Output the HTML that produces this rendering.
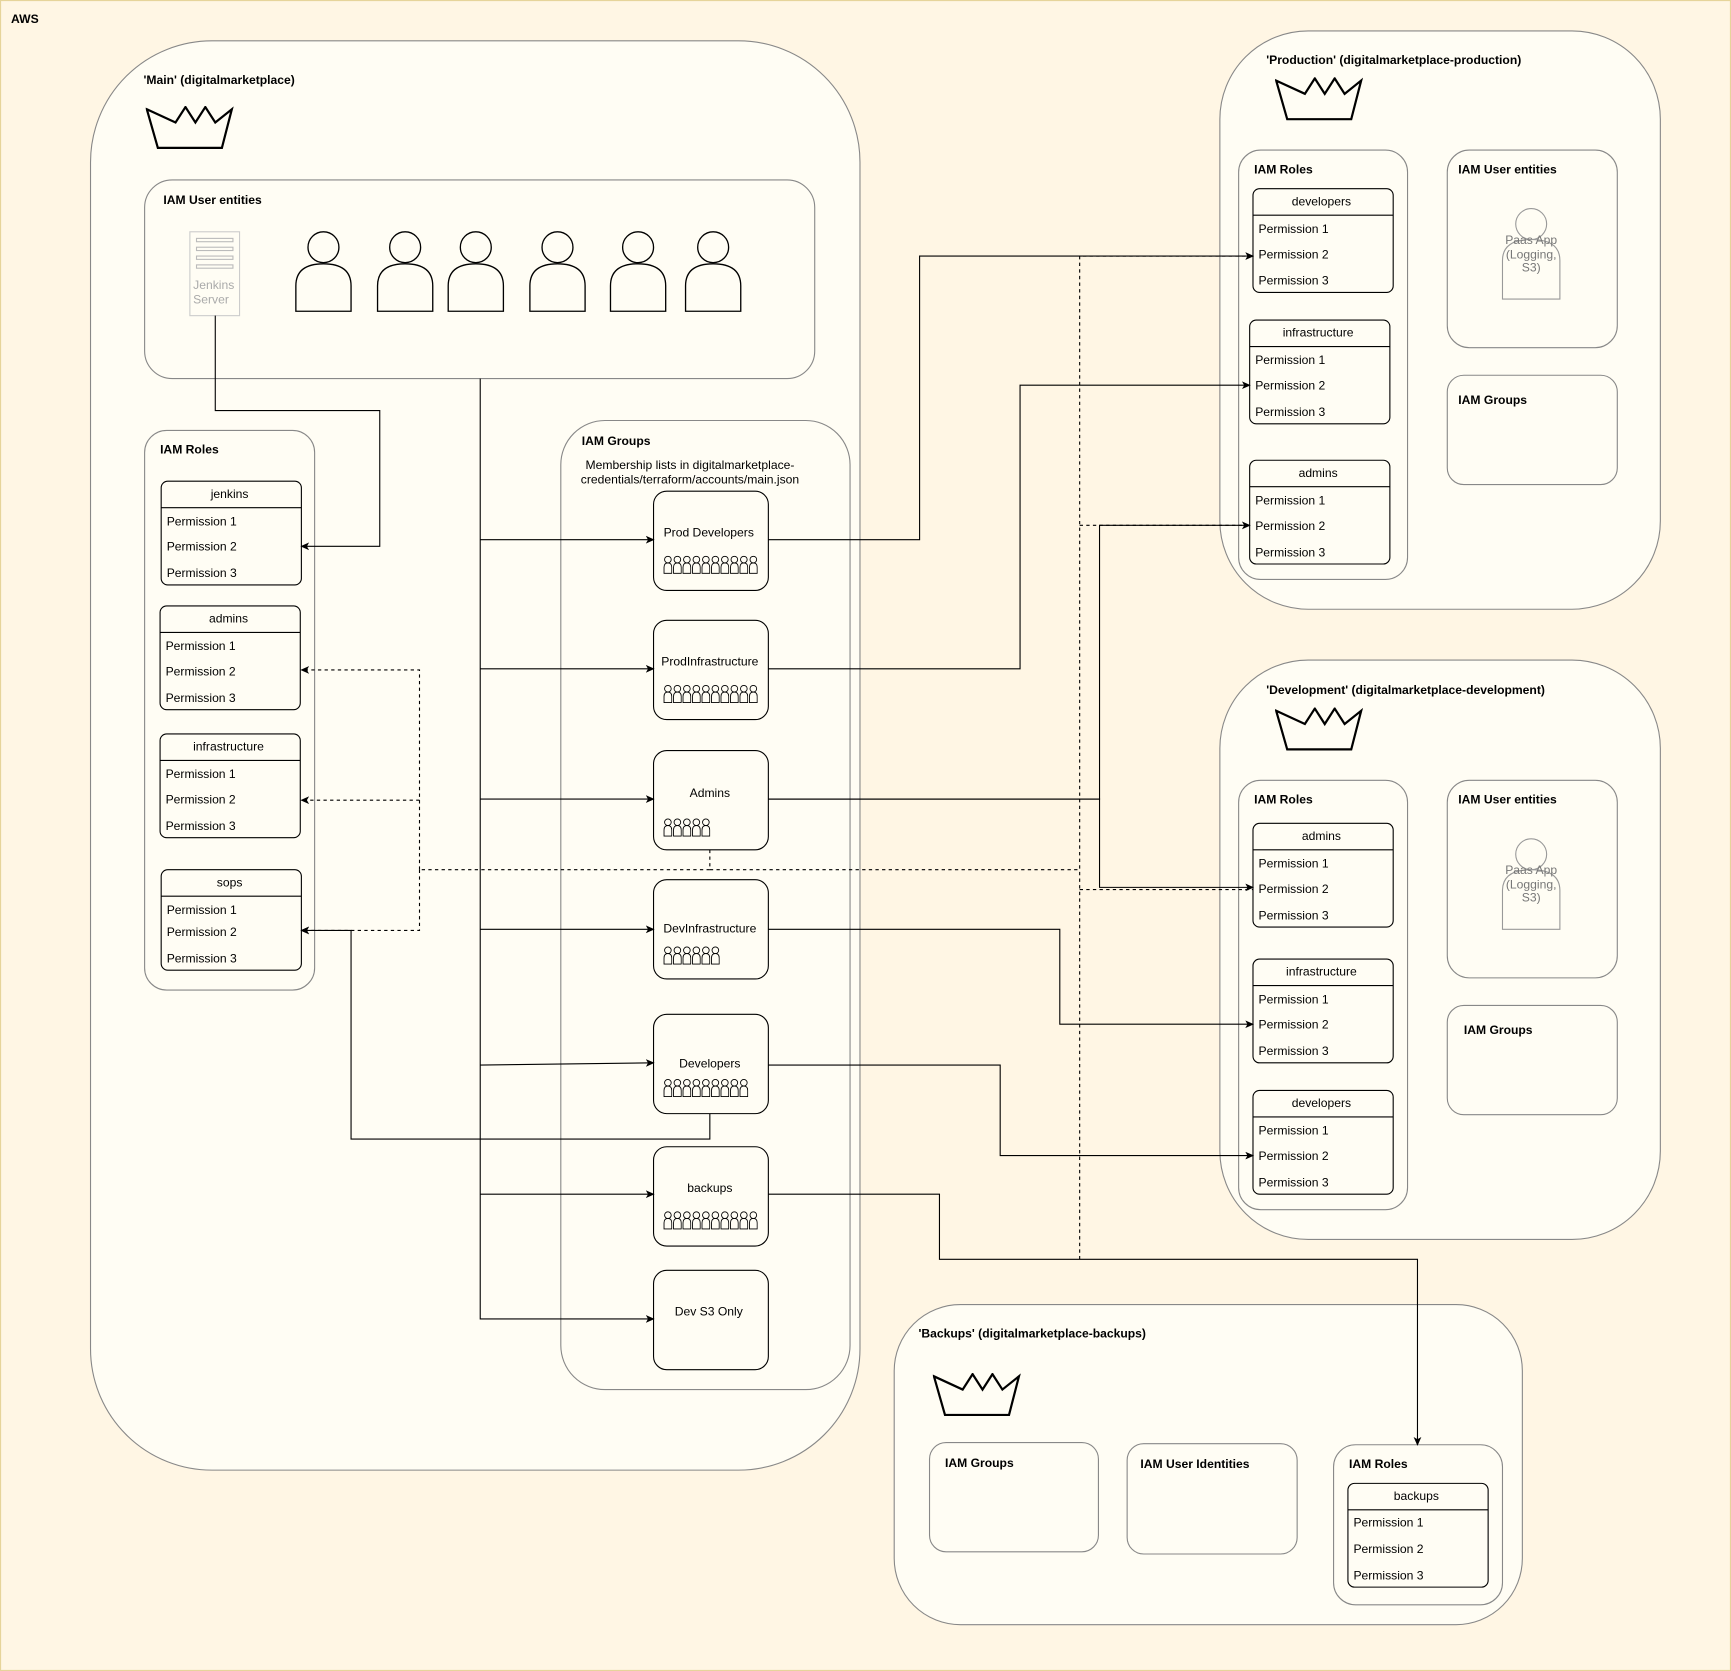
<!DOCTYPE html>
<html><head><meta charset="utf-8"><style>
html,body{margin:0;padding:0;background:#fff6e4;}
svg{display:block;}
text{font-family:"Liberation Sans",Arial,sans-serif;font-size:11px;fill:#000;}
.b{font-weight:bold;}
.c{fill:#fffdf4;stroke:#888;stroke-width:1;}
.w{fill:#fffdf4;stroke:#000;stroke-width:1;}
.l{fill:none;stroke:#000;stroke-width:1;}
.d{fill:none;stroke:#000;stroke-width:1;stroke-dasharray:3,3;}
.g{fill:#888;}
</style></head><body>
<svg width="1731" height="1671" viewBox="0 0 1568 1514" preserveAspectRatio="none" xmlns="http://www.w3.org/2000/svg">
<defs>
<marker id="a" markerWidth="8" markerHeight="8" refX="7" refY="4" orient="auto" markerUnits="userSpaceOnUse"><path d="M0,0.5 L8,4 L0,7.5 L2,4 Z" fill="#000"/></marker>
<symbol id="mp" viewBox="0 0 8 17" width="8" height="17"><circle cx="4" cy="4" r="3" fill="none" stroke="#000" stroke-width="0.8"/><path d="M0.5,16.5 L0.5,11 Q0.5,7 4,7 Q7.5,7 7.5,11 L7.5,16.5 Z" fill="none" stroke="#000" stroke-width="0.8"/></symbol>
<symbol id="pp" viewBox="0 0 52 74" width="52" height="74"><circle cx="26" cy="15" r="14" fill="none" stroke="#000" stroke-width="1.2"/><path d="M1,73 L1,50 Q1,30 26,30 Q51,30 51,50 L51,73 Z" fill="none" stroke="#000" stroke-width="1.2"/></symbol>
<symbol id="cr" viewBox="0 0 80 40" width="80" height="40"><path d="M1,3 L27,15 L36,1 L45,15 L54,1 L63,15 L78,3 L69,38 L11,38 Z" fill="none" stroke="#000" stroke-width="2"/></symbol>
</defs>
<rect x="0.5" y="0.5" width="1567" height="1513" fill="#fff6e4" stroke="#e6d49a"/>
<text x="10" y="21" class="b">AWS</text>

<!-- Main -->
<rect class="c" x="82" y="37" width="697" height="1295" rx="110"/>
<text x="130" y="76" class="b">'Main' (digitalmarketplace)</text>
<use href="#cr" x="132" y="96"/>
<rect class="c" x="131" y="163" width="607" height="180" rx="25"/>
<text x="148" y="185" class="b">IAM User entities</text>
<rect x="172" y="210" width="45" height="76" fill="#fffdf4" stroke="#ccc"/>
<g stroke="#bbb" fill="none"><rect x="178" y="216" width="33" height="3"/><rect x="178" y="224" width="33" height="3"/><rect x="178" y="232" width="33" height="3"/><rect x="178" y="240" width="33" height="3"/></g>
<text x="175" y="262" fill="#aaa" style="fill:#aaa">Jenkins</text>
<text x="175" y="275" style="fill:#aaa">Server</text>
<use href="#pp" x="267" y="209"/><use href="#pp" x="341" y="209"/><use href="#pp" x="405" y="209"/><use href="#pp" x="479" y="209"/><use href="#pp" x="552" y="209"/><use href="#pp" x="620" y="209"/>

<rect class="c" x="131" y="390" width="154" height="507" rx="20"/>
<text x="145" y="411" class="b">IAM Roles</text>
<g>
<rect class="w" x="146" y="436" width="127" height="94" rx="6"/><line class="l" x1="146" y1="460" x2="273" y2="460"/>
<text x="208" y="451" text-anchor="middle">jenkins</text><text x="151" y="476">Permission 1</text><text x="151" y="499">Permission 2</text><text x="151" y="523">Permission 3</text>
<rect class="w" x="145" y="549" width="127" height="94" rx="6"/><line class="l" x1="145" y1="573" x2="272" y2="573"/>
<text x="207" y="564" text-anchor="middle">admins</text><text x="150" y="589">Permission 1</text><text x="150" y="612">Permission 2</text><text x="150" y="636">Permission 3</text>
<rect class="w" x="145" y="665" width="127" height="94" rx="6"/><line class="l" x1="145" y1="689" x2="272" y2="689"/>
<text x="207" y="680" text-anchor="middle">infrastructure</text><text x="150" y="705">Permission 1</text><text x="150" y="728">Permission 2</text><text x="150" y="752">Permission 3</text>
<rect class="w" x="146" y="788" width="127" height="91" rx="6"/><line class="l" x1="146" y1="812" x2="273" y2="812"/>
<text x="208" y="803" text-anchor="middle">sops</text><text x="151" y="828">Permission 1</text><text x="151" y="848">Permission 2</text><text x="151" y="872">Permission 3</text>
</g>

<rect class="c" x="508" y="381" width="262" height="878" rx="40"/>
<text x="527" y="403" class="b">IAM Groups</text>
<text x="625" y="425" text-anchor="middle">Membership lists in digitalmarketplace-</text>
<text x="625" y="438" text-anchor="middle">credentials/terraform/accounts/main.json</text>

<g>
<rect class="w" x="592" y="445" width="104" height="90" rx="12"/><text x="642" y="486" text-anchor="middle">Prod Developers</text>
<rect class="w" x="592" y="562" width="104" height="90" rx="12"/><text x="643" y="603" text-anchor="middle">ProdInfrastructure</text>
<rect class="w" x="592" y="680" width="104" height="90" rx="12"/><text x="643" y="722" text-anchor="middle">Admins</text>
<rect class="w" x="592" y="797" width="104" height="90" rx="12"/><text x="643" y="845" text-anchor="middle">DevInfrastructure</text>
<rect class="w" x="592" y="919" width="104" height="90" rx="12"/><text x="643" y="967" text-anchor="middle">Developers</text>
<rect class="w" x="592" y="1039" width="104" height="90" rx="12"/><text x="643" y="1080" text-anchor="middle">backups</text>
<rect class="w" x="592" y="1151" width="104" height="90" rx="12"/><text x="642" y="1192" text-anchor="middle">Dev S3 Only</text>
</g>
<g>
<use href="#mp" x="601" y="503"/><use href="#mp" x="609.6" y="503"/><use href="#mp" x="618.2" y="503"/><use href="#mp" x="626.8" y="503"/><use href="#mp" x="635.4" y="503"/><use href="#mp" x="644" y="503"/><use href="#mp" x="652.6" y="503"/><use href="#mp" x="661.2" y="503"/><use href="#mp" x="669.8" y="503"/><use href="#mp" x="678.4" y="503"/>
<use href="#mp" x="601" y="620"/><use href="#mp" x="609.6" y="620"/><use href="#mp" x="618.2" y="620"/><use href="#mp" x="626.8" y="620"/><use href="#mp" x="635.4" y="620"/><use href="#mp" x="644" y="620"/><use href="#mp" x="652.6" y="620"/><use href="#mp" x="661.2" y="620"/><use href="#mp" x="669.8" y="620"/><use href="#mp" x="678.4" y="620"/>
<use href="#mp" x="601" y="741"/><use href="#mp" x="609.6" y="741"/><use href="#mp" x="618.2" y="741"/><use href="#mp" x="626.8" y="741"/><use href="#mp" x="635.4" y="741"/>
<use href="#mp" x="601" y="857"/><use href="#mp" x="609.6" y="857"/><use href="#mp" x="618.2" y="857"/><use href="#mp" x="626.8" y="857"/><use href="#mp" x="635.4" y="857"/><use href="#mp" x="644" y="857"/>
<use href="#mp" x="601" y="977"/><use href="#mp" x="609.6" y="977"/><use href="#mp" x="618.2" y="977"/><use href="#mp" x="626.8" y="977"/><use href="#mp" x="635.4" y="977"/><use href="#mp" x="644" y="977"/><use href="#mp" x="652.6" y="977"/><use href="#mp" x="661.2" y="977"/><use href="#mp" x="669.8" y="977"/>
<use href="#mp" x="601" y="1097"/><use href="#mp" x="609.6" y="1097"/><use href="#mp" x="618.2" y="1097"/><use href="#mp" x="626.8" y="1097"/><use href="#mp" x="635.4" y="1097"/><use href="#mp" x="644" y="1097"/><use href="#mp" x="652.6" y="1097"/><use href="#mp" x="661.2" y="1097"/><use href="#mp" x="669.8" y="1097"/><use href="#mp" x="678.4" y="1097"/>
</g>

<!-- Production -->
<rect class="c" x="1105" y="28" width="399" height="524" rx="80"/>
<text x="1147" y="58" class="b">'Production' (digitalmarketplace-production)</text>
<use href="#cr" x="1155" y="70"/>
<rect class="c" x="1122" y="136" width="153" height="389" rx="20"/>
<text x="1136" y="157" class="b">IAM Roles</text>
<rect class="w" x="1135" y="171" width="127" height="94" rx="6"/><line class="l" x1="1135" y1="195" x2="1262" y2="195"/>
<text x="1197" y="186" text-anchor="middle">developers</text><text x="1140" y="211">Permission 1</text><text x="1140" y="234">Permission 2</text><text x="1140" y="258">Permission 3</text>
<rect class="w" x="1132" y="290" width="127" height="94" rx="6"/><line class="l" x1="1132" y1="314" x2="1259" y2="314"/>
<text x="1194" y="305" text-anchor="middle">infrastructure</text><text x="1137" y="330">Permission 1</text><text x="1137" y="353">Permission 2</text><text x="1137" y="377">Permission 3</text>
<rect class="w" x="1132" y="417" width="127" height="94" rx="6"/><line class="l" x1="1132" y1="441" x2="1259" y2="441"/>
<text x="1194" y="432" text-anchor="middle">admins</text><text x="1137" y="457">Permission 1</text><text x="1137" y="480">Permission 2</text><text x="1137" y="504">Permission 3</text>
<rect class="c" x="1311" y="136" width="154" height="179" rx="20"/>
<text x="1321" y="157" class="b">IAM User entities</text>
<circle cx="1387" cy="203" r="14" fill="none" stroke="#999"/><path d="M1361,271 L1361,236 Q1361,217 1387,217 Q1413,217 1413,236 L1413,271 Z" fill="none" stroke="#999"/>
<text x="1387" y="221" text-anchor="middle" style="fill:#777">Paas App</text><text x="1387" y="234" text-anchor="middle" style="fill:#777">(Logging,</text><text x="1387" y="246" text-anchor="middle" style="fill:#777">S3)</text>
<rect class="c" x="1311" y="340" width="154" height="99" rx="15"/>
<text x="1321" y="366" class="b">IAM Groups</text>

<!-- Development -->
<rect class="c" x="1105" y="598" width="399" height="525" rx="80"/>
<text x="1147" y="629" class="b">'Development' (digitalmarketplace-development)</text>
<use href="#cr" x="1155" y="641"/>
<rect class="c" x="1122" y="707" width="153" height="389" rx="20"/>
<text x="1136" y="728" class="b">IAM Roles</text>
<rect class="w" x="1135" y="746" width="127" height="94" rx="6"/><line class="l" x1="1135" y1="770" x2="1262" y2="770"/>
<text x="1197" y="761" text-anchor="middle">admins</text><text x="1140" y="786">Permission 1</text><text x="1140" y="809">Permission 2</text><text x="1140" y="833">Permission 3</text>
<rect class="w" x="1135" y="869" width="127" height="94" rx="6"/><line class="l" x1="1135" y1="893" x2="1262" y2="893"/>
<text x="1197" y="884" text-anchor="middle">infrastructure</text><text x="1140" y="909">Permission 1</text><text x="1140" y="932">Permission 2</text><text x="1140" y="956">Permission 3</text>
<rect class="w" x="1135" y="988" width="127" height="94" rx="6"/><line class="l" x1="1135" y1="1012" x2="1262" y2="1012"/>
<text x="1197" y="1003" text-anchor="middle">developers</text><text x="1140" y="1028">Permission 1</text><text x="1140" y="1051">Permission 2</text><text x="1140" y="1075">Permission 3</text>
<rect class="c" x="1311" y="707" width="154" height="179" rx="20"/>
<text x="1321" y="728" class="b">IAM User entities</text>
<circle cx="1387" cy="774" r="14" fill="none" stroke="#999"/><path d="M1361,842 L1361,807 Q1361,788 1387,788 Q1413,788 1413,807 L1413,842 Z" fill="none" stroke="#999"/>
<text x="1387" y="792" text-anchor="middle" style="fill:#777">Paas App</text><text x="1387" y="805" text-anchor="middle" style="fill:#777">(Logging,</text><text x="1387" y="817" text-anchor="middle" style="fill:#777">S3)</text>
<rect class="c" x="1311" y="911" width="154" height="99" rx="15"/>
<text x="1326" y="937" class="b">IAM Groups</text>

<!-- Backups -->
<rect class="c" x="810" y="1182" width="569" height="290" rx="60"/>
<text x="832" y="1212" class="b">'Backups' (digitalmarketplace-backups)</text>
<use href="#cr" x="845" y="1244"/>
<rect class="c" x="842" y="1307" width="153" height="99" rx="15"/>
<text x="856" y="1329" class="b">IAM Groups</text>
<rect class="c" x="1021" y="1308" width="154" height="100" rx="15"/>
<text x="1033" y="1330" class="b">IAM User Identities</text>
<rect class="c" x="1208" y="1309" width="153" height="145" rx="20"/>
<text x="1222" y="1330" class="b">IAM Roles</text>
<rect class="w" x="1221" y="1344" width="127" height="94" rx="6"/><line class="l" x1="1221" y1="1368" x2="1348" y2="1368"/>
<text x="1283" y="1359" text-anchor="middle">backups</text><text x="1226" y="1383">Permission 1</text><text x="1226" y="1407">Permission 2</text><text x="1226" y="1431">Permission 3</text>

<!-- Connectors solid -->
<path class="l" d="M195,286 V372 H344 V495 H273" marker-end="url(#a)"/>
<path class="l" d="M435,343 V1195 H592" marker-end="url(#a)"/>
<path class="l" d="M435,489 H592" marker-end="url(#a)"/>
<path class="l" d="M435,606 H592" marker-end="url(#a)"/>
<path class="l" d="M435,724 H592" marker-end="url(#a)"/>
<path class="l" d="M435,842 H592" marker-end="url(#a)"/>
<path class="l" d="M435,965 L592,963" marker-end="url(#a)"/>
<path class="l" d="M435,1082 H592" marker-end="url(#a)"/>
<path class="l" d="M696,489 H833 V232 H1135" marker-end="url(#a)"/>
<path class="l" d="M696,606 H924 V349 H1132" marker-end="url(#a)"/>
<path class="l" d="M696,724 H996 V476 H1132" marker-end="url(#a)"/>
<path class="l" d="M696,724 H996 V804 H1135" marker-end="url(#a)"/>
<path class="l" d="M696,842 H960 V928 H1135" marker-end="url(#a)"/>
<path class="l" d="M696,965 H906 V1047 H1135" marker-end="url(#a)"/>
<path class="l" d="M696,1082 H851 V1141 H1284 V1309" marker-end="url(#a)"/>
<path class="l" d="M643,1009 V1032 H318 V843 H273" marker-end="url(#a)"/>
<!-- dashed -->
<path class="d" d="M643,770 V788 H380"/>
<path class="d" d="M380,788 V607 H273" marker-end="url(#a)"/>
<path class="d" d="M380,725 H273" marker-end="url(#a)"/>
<path class="d" d="M380,788 V843 H273" marker-end="url(#a)"/>
<path class="d" d="M643,788 H978"/>
<path class="d" d="M978,1141 V232 H1135"/>
<path class="d" d="M978,476 H1132"/>
<path class="d" d="M978,806 H1135"/>
</svg>
</body></html>
